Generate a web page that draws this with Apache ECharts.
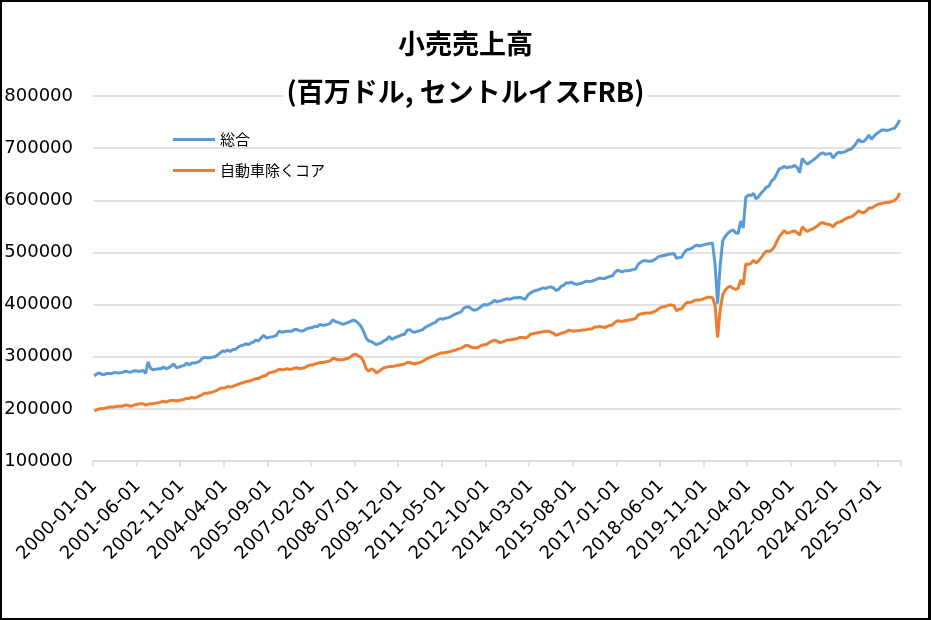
<!DOCTYPE html>
<html><head><meta charset="utf-8">
<script src="https://cdn.jsdelivr.net/npm/echarts@6/dist/echarts.min.js"></script>
<style>
html,body{margin:0;padding:0;background:#fff}
#wrap{position:relative;width:931px;height:620px}
#c{width:931px;height:620px}
#frame{position:absolute;left:0;top:0;width:931px;height:620px;box-sizing:border-box;border:2px solid #000;border-right-width:3px;pointer-events:none}
</style></head><body>
<div id="wrap"><div id="c"></div><div id="frame"></div></div>
<script>
// monthly, 2000-01 .. 2026-03
var startYear = 2000, startMonth = 1, monthCount = 315;
var categories = [];
for (var i = 0; i < monthCount; i++) {
  var m = (startMonth - 1 + i) % 12 + 1;
  var y = startYear + Math.floor((startMonth - 1 + i) / 12);
  categories.push(y + '-' + (m < 10 ? '0' : '') + m + '-01');
}
var seriesNames = ['総合', '自動車除くコア'];
var totalSales = [
 263000,267000,269000,266000,266000,268000,268000,268000,270000,269000,269000,270000,
 272000,271000,270000,272000,273000,272000,272000,274000,268000,290000,277000,275000,
 276000,277000,277000,280000,277000,279000,282000,286000,279000,280000,282000,283000,
 288000,284000,288000,288000,289000,291000,296000,299000,298000,298000,299000,300000,
 303000,307000,311000,310000,313000,310000,314000,314000,318000,321000,322000,325000,
 323000,326000,328000,332000,330000,336000,341000,336000,337000,338000,339000,341000,
 349000,347000,348000,349000,349000,349000,352000,352000,350000,349000,351000,354000,
 355000,356000,358000,358000,362000,360000,361000,362000,364000,371000,367000,366000,
 364000,362000,364000,366000,368000,370000,368000,364000,358000,348000,336000,330000,
 329000,326000,323000,325000,327000,331000,333000,339000,333000,336000,338000,340000,
 342000,343000,351000,352000,348000,347000,349000,350000,352000,356000,359000,361000,
 364000,366000,371000,373000,372000,374000,375000,377000,380000,382000,384000,386000,
 393000,395000,396000,392000,389000,390000,393000,397000,400000,399000,401000,404000,
 408000,405000,407000,408000,410000,411000,410000,412000,413000,413000,414000,412000,
 410000,418000,422000,425000,427000,428000,430000,432000,431000,433000,434000,432000,
 427000,429000,435000,437000,442000,441000,443000,440000,439000,440000,441000,443000,
 445000,444000,445000,447000,449000,451000,450000,450000,452000,454000,455000,462000,
 466000,464000,463000,465000,465000,466000,467000,468000,477000,481000,484000,484000,
 483000,483000,485000,488000,492000,493000,494000,495000,497000,497000,498000,489000,
 490000,491000,500000,505000,506000,508000,512000,514000,512000,514000,515000,516000,
 517000,518000,478000,402000,475000,522000,531000,537000,541000,543000,538000,536000,
 560000,547000,606000,610000,609000,613000,603000,607000,614000,619000,625000,627000,
 637000,641000,650000,660000,662000,665000,662000,664000,664000,667000,663000,653000,
 680000,674000,669000,673000,676000,680000,684000,689000,691000,688000,689000,690000,
 681000,687000,692000,691000,692000,694000,697000,698000,703000,709000,717000,712000,
 713000,718000,725000,717000,723000,728000,731000,735000,735000,734000,735000,737000,
 738000,745000,754000
];
var coreExAuto = [
 196000,198000,200000,200000,201000,202000,204000,203000,204000,205000,205000,205000,
 207000,207000,205000,206000,208000,209000,210000,210000,207000,209000,210000,210000,
 211000,212000,213000,214000,213000,215000,216000,216000,215000,216000,217000,218000,
 220000,220000,222000,221000,222000,225000,227000,230000,230000,231000,232000,234000,
 236000,239000,240000,240000,243000,242000,243000,245000,247000,249000,250000,252000,
 253000,254000,256000,258000,258000,261000,263000,264000,269000,270000,271000,273000,
 276000,275000,275000,277000,276000,276000,278000,279000,277000,278000,279000,282000,
 284000,284000,286000,287000,289000,289000,290000,291000,292000,297000,296000,294000,
 294000,294000,296000,297000,300000,304000,305000,301000,299000,291000,277000,272000,
 277000,274000,269000,272000,276000,279000,280000,281000,281000,282000,283000,284000,
 285000,286000,289000,289000,287000,286000,288000,289000,291000,294000,297000,299000,
 301000,303000,305000,307000,307000,308000,309000,310000,312000,313000,315000,316000,
 319000,322000,321000,318000,317000,317000,319000,322000,323000,324000,327000,330000,
 332000,330000,327000,328000,330000,332000,332000,333000,334000,335000,337000,337000,
 336000,338000,343000,344000,345000,346000,347000,348000,349000,349000,347000,345000,
 341000,343000,345000,346000,348000,351000,350000,349000,350000,350000,351000,351000,
 352000,353000,353000,357000,357000,358000,357000,356000,358000,360000,361000,366000,
 369000,368000,368000,369000,370000,371000,372000,373000,380000,382000,383000,384000,
 384000,384000,386000,388000,392000,395000,396000,397000,399000,399000,398000,388000,
 391000,392000,399000,404000,404000,405000,408000,409000,409000,410000,412000,414000,
 414000,413000,399000,337000,390000,419000,428000,433000,435000,431000,429000,431000,
 447000,438000,478000,477000,479000,485000,480000,484000,490000,497000,503000,502000,
 504000,510000,520000,530000,536000,542000,537000,538000,540000,541000,538000,533000,
 549000,544000,540000,543000,545000,548000,551000,556000,557000,555000,554000,553000,
 549000,555000,558000,559000,562000,565000,567000,568000,571000,575000,580000,577000,
 576000,580000,585000,585000,588000,591000,593000,594000,595000,596000,596000,598000,
 600000,604000,614000
];
var yTicks = {min: 100000, max: 800000, interval: 100000};

var chart = echarts.init(document.getElementById('c'));
chart.setOption({
  animation: false,
  backgroundColor: '#fff',
  title: {
    text: '小売売上高\n(百万ドル, セントルイスFRB)',
    left: 'center', top: 20, padding: [0, 3],
    backgroundColor: '#fff',
    textStyle: {fontFamily: 'Noto Sans CJK JP', fontSize: 27, fontWeight: 'bold', color: '#000', lineHeight: 48}
  },
  legend: {
    orient: 'vertical', left: 168, top: 127,
    itemWidth: 42, itemHeight: 3, itemGap: 16, icon: 'rect',
    textStyle: {fontFamily: 'Noto Sans CJK JP', fontSize: 15, color: '#000'},
    data: seriesNames
  },
  grid: {left: 93, right: 30, top: 96, bottom: 159, containLabel: false},
  xAxis: {
    type: 'category', data: categories, boundaryGap: true,
    axisLine: {lineStyle: {color: '#d9d9d9', width: 1.5}},
    axisTick: {show: true, interval: 16, length: 6, lineStyle: {color: '#d9d9d9', width: 1.5}},
    axisLabel: {interval: 16, rotate: 45, margin: 22, fontFamily: 'DejaVu Sans', fontSize: 18, color: '#000'}
  },
  yAxis: {
    type: 'value', min: yTicks.min, max: yTicks.max, interval: yTicks.interval,
    axisLine: {show: false}, axisTick: {show: false},
    axisLabel: {fontFamily: 'DejaVu Sans', fontSize: 18, color: '#000', margin: 20,
      formatter: function (v) { return String(v); }},
    splitLine: {lineStyle: {color: '#d9d9d9', width: 1.5}}
  },
  series: [
    {name: seriesNames[0], type: 'line', data: totalSales, showSymbol: false, symbol: 'none',
     lineStyle: {width: 3, color: '#5B9BD5'}, itemStyle: {color: '#5B9BD5'}},
    {name: seriesNames[1], type: 'line', data: coreExAuto, showSymbol: false, symbol: 'none',
     lineStyle: {width: 3, color: '#ED7D31'}, itemStyle: {color: '#ED7D31'}}
  ]
});
</script>
</body></html>
